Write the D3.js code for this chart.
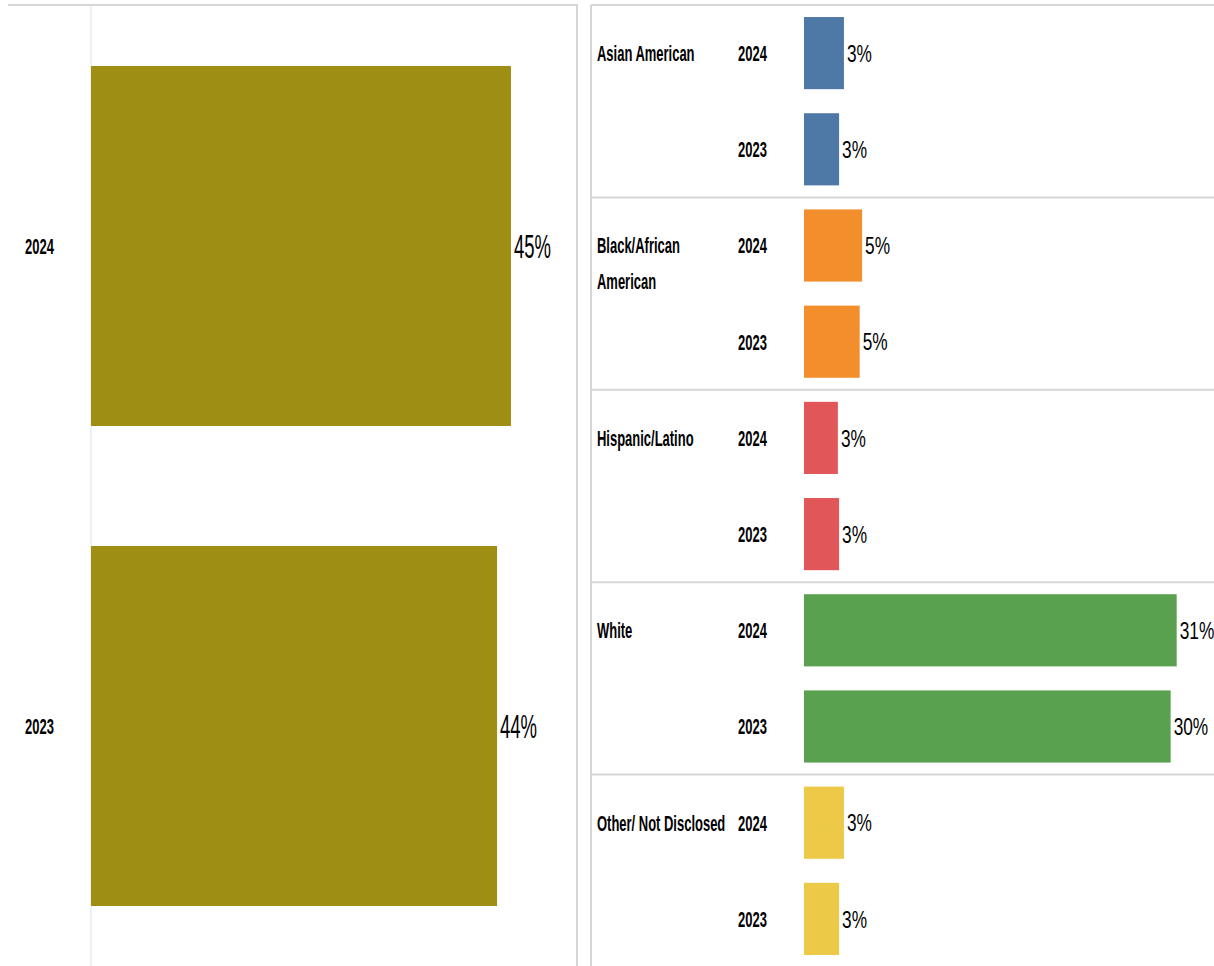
<!DOCTYPE html>
<html>
<head>
<meta charset="utf-8">
<script src="https://cdn.jsdelivr.net/npm/d3@7"></script>
<style>
  html, body { margin: 0; padding: 0; background: #fff; }
  svg { display: block; }
  text { font-family: "Liberation Sans", Arial, sans-serif; fill: #000; }
  .lbl { font-weight: bold; font-size: 22px; }
  .lval { font-size: 33px; }
  .rval { font-size: 24px; }
</style>
</head>
<body>
<svg id="chart" width="1214" height="966"></svg>
<script>
// ---- data ----
const leftYears = ["2024", "2023"];
const leftValues = [45.4, 43.9];
const leftColor = "#9E8E14";

const categories = ["Asian American", "Black/African American", "Hispanic/Latino", "White", "Other/ Not Disclosed"];
const years = ["2024", "2023"];
const values2024 = [3.3, 4.8, 2.8, 30.8, 3.3];
const values2023 = [2.9, 4.6, 2.9, 30.3, 2.9];
const catColors = ["#4E79A7", "#F28E2B", "#E15759", "#59A14F", "#EDC948"];

const fmt = v => Math.round(v) + "%";
const svg = d3.select("#chart");
const lineColor = "#d6d6d6";
const LBL_K = 0.59;

// place a text at (x, y) horizontally condensed by k (emulates a narrow font)
function place(sel, fx, fy, k) {
  sel.attr("x", 0).attr("y", 0)
     .attr("transform", (d, i) => `translate(${fx(d, i)},${fy(d, i)}) scale(${k},1)`);
}

// ---- left panel ----
const lx = d3.scaleLinear().domain([0, 50]).range([91, 91 + 9.25 * 50]);
const ly = d3.scaleBand().domain(leftYears).range([6, 966]).paddingInner(0.25).paddingOuter(0.125);

svg.append("line").attr("x1", 8).attr("x2", 578).attr("y1", 5).attr("y2", 5)
  .attr("stroke", lineColor).attr("stroke-width", 2);
svg.append("line").attr("x1", 91).attr("x2", 91).attr("y1", 6).attr("y2", 966)
  .attr("stroke", "#e2e2e2").attr("stroke-width", 1);
svg.append("line").attr("x1", 577).attr("x2", 577).attr("y1", 5).attr("y2", 966)
  .attr("stroke", lineColor).attr("stroke-width", 2);

const left = svg.append("g");
left.selectAll("rect").data(leftYears).join("rect")
  .attr("x", lx(0)).attr("y", d => ly(d))
  .attr("width", (d, i) => lx(leftValues[i]) - lx(0))
  .attr("height", ly.bandwidth())
  .attr("fill", leftColor);
left.selectAll("text.lbl").data(leftYears).join("text").attr("class", "lbl")
  .attr("dy", "0.36em").text(d => d)
  .call(place, () => 25, d => ly(d) + ly.bandwidth() / 2, LBL_K);
left.selectAll("text.lval").data(leftYears).join("text").attr("class", "lval")
  .attr("dy", "0.36em").text((d, i) => fmt(leftValues[i]))
  .call(place, (d, i) => lx(leftValues[i]) + 3, d => ly(d) + ly.bandwidth() / 2, 0.56);

// ---- right panel ----
const rx = d3.scaleLinear().domain([0, 50]).range([804, 804 + 12.1 * 50]);
const ry = d3.scaleBand().domain(categories).range([5, 967]).padding(0);
const ryIn = d3.scaleBand().domain(years).range([0, ry.step()]).paddingInner(0.25).paddingOuter(0.125);

svg.append("line").attr("x1", 591).attr("x2", 591).attr("y1", 5).attr("y2", 966)
  .attr("stroke", lineColor).attr("stroke-width", 2);
svg.selectAll("line.sep").data(categories).join("line").attr("class", "sep")
  .attr("x1", 591).attr("x2", 1214)
  .attr("y1", d => ry(d)).attr("y2", d => ry(d))
  .attr("stroke", lineColor).attr("stroke-width", 2);

const rows = [];
categories.forEach((c, i) => {
  rows.push({cat: c, year: "2024", v: values2024[i], color: catColors[i]});
  rows.push({cat: c, year: "2023", v: values2023[i], color: catColors[i]});
});
const rowMid = d => ry(d.cat) + ryIn(d.year) + ryIn.bandwidth() / 2;

const right = svg.append("g");
right.selectAll("rect").data(rows).join("rect")
  .attr("x", rx(0)).attr("y", d => ry(d.cat) + ryIn(d.year))
  .attr("width", d => rx(d.v) - rx(0))
  .attr("height", ryIn.bandwidth())
  .attr("fill", d => d.color);
right.selectAll("text.lbl").data(rows).join("text").attr("class", "lbl")
  .attr("dy", "0.36em").text(d => d.year)
  .call(place, () => 738, rowMid, LBL_K);
right.selectAll("text.rval").data(rows).join("text").attr("class", "rval")
  .attr("dy", "0.36em").text(d => fmt(d.v))
  .call(place, d => rx(d.v) + 3, rowMid, 0.72);

// category labels with wrapping
const catLbl = right.selectAll("text.cat").data(categories).join("text").attr("class", "lbl cat")
  .attr("dy", "0.36em")
  .call(place, () => 597, d => ry(d) + ryIn("2024") + ryIn.bandwidth() / 2, LBL_K);
catLbl.each(function(d) {
  const t = d3.select(this);
  const words = d.split(" ");
  let line = [];
  let tspan = t.append("tspan").attr("x", 0);
  words.forEach(w => {
    line.push(w);
    tspan.text(line.join(" "));
    if (tspan.node().getComputedTextLength() * LBL_K > 135 && line.length > 1) {
      line.pop();
      tspan.text(line.join(" "));
      line = [w];
      tspan = t.append("tspan").attr("x", 0).attr("dy", 36).text(w);
    }
  });
});
</script>
</body>
</html>
